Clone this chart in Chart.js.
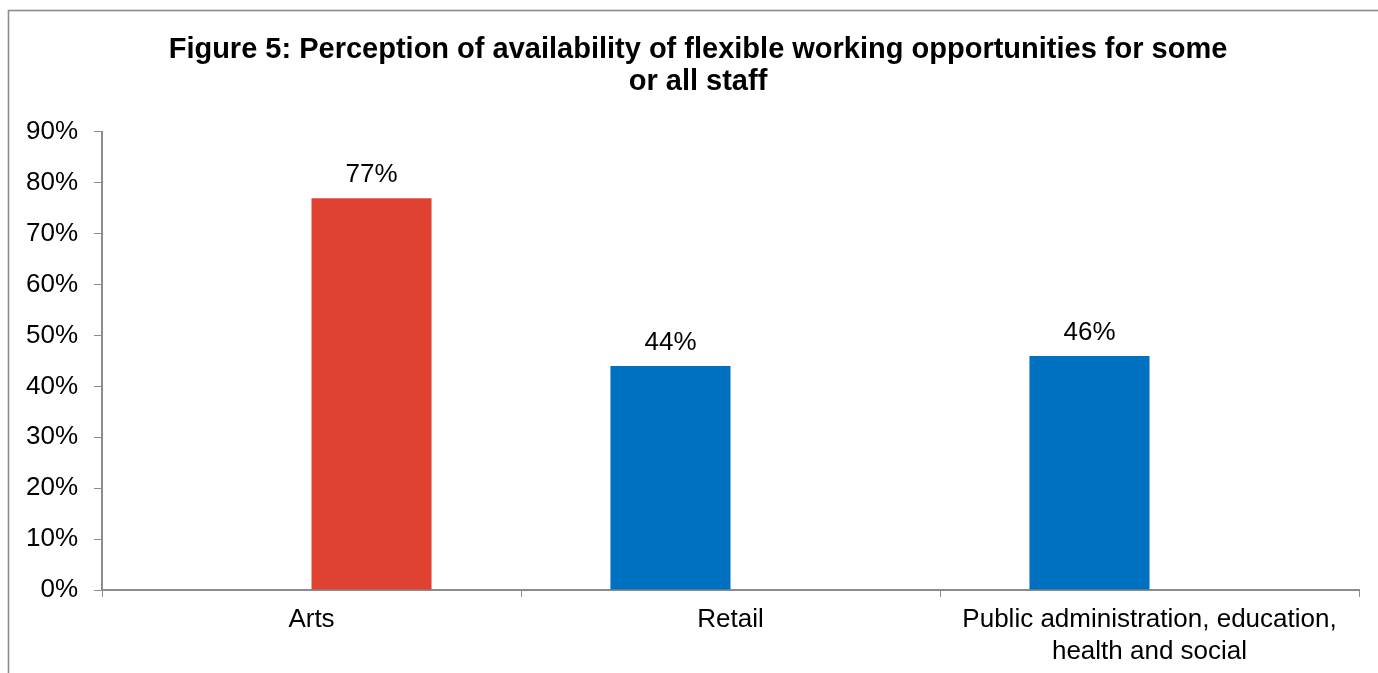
<!DOCTYPE html>
<html>
<head>
<meta charset="utf-8">
<style>
  html, body { margin: 0; padding: 0; background: #ffffff; }
  #wrap { width: 1378px; height: 673px; position: relative; }
</style>
<script src="https://cdn.jsdelivr.net/npm/chart.js@4/dist/chart.umd.min.js"></script>
</head>
<body>
<div id="wrap"><canvas id="chart" width="1378" height="673"></canvas></div>
<script>
// Sectors shown on the category axis (multi-line labels as arrays)
const categories = [
  'Arts',
  'Retail',
  ['Public administration, education,', 'health and social']
];
// Share of respondents reporting flexible working availability (%)
const artsValues  = [77, null, null];
const otherValues = [null, 44, 46];
const yTicks = [0, 10, 20, 30, 40, 50, 60, 70, 80, 90];
const titleLines = [
  'Figure 5: Perception of availability of flexible working opportunities for some',
  'or all staff'
];

const FONT = '"Liberation Sans", Arial, sans-serif';
const AXIS_GREY = '#8c8c8c';

// Outer frame around the figure
const framePlugin = {
  id: 'frame',
  beforeDraw(chart) {
    const ctx = chart.ctx;
    ctx.save();
    ctx.strokeStyle = AXIS_GREY;
    ctx.lineWidth = 1.6;
    ctx.strokeRect(8.5, 10.5, chart.width + 20, chart.height + 20);
    ctx.restore();
  }
};

// Centre the title over the framed figure rather than the plot box
const titleOffset = {
  id: 'titleOffset',
  afterLayout(chart) {
    if (chart.titleBlock) chart.titleBlock.left = 37;
  }
};

// Value labels above each bar
const valueLabels = {
  id: 'valueLabels',
  afterDatasetsDraw(chart) {
    const ctx = chart.ctx;
    ctx.save();
    ctx.font = '26px ' + FONT;
    ctx.fillStyle = '#000000';
    ctx.textAlign = 'center';
    ctx.textBaseline = 'alphabetic';
    chart.data.datasets.forEach((ds, di) => {
      const meta = chart.getDatasetMeta(di);
      meta.data.forEach((bar, i) => {
        const v = ds.data[i];
        if (v === null || v === undefined) return;
        ctx.fillText(v + '%', bar.x, bar.y - 16);
      });
    });
    ctx.restore();
  }
};

new Chart(document.getElementById('chart'), {
  type: 'bar',
  data: {
    labels: categories,
    datasets: [
      {
        label: 'Other sectors',
        data: otherValues,
        backgroundColor: '#0070C0',
        borderWidth: 0,
        barPercentage: 1.0,
        categoryPercentage: 0.573
      },
      {
        label: 'Arts',
        data: artsValues,
        backgroundColor: '#DF4230',
        borderWidth: 0,
        barPercentage: 1.0,
        categoryPercentage: 0.573
      }
    ]
  },
  options: {
    responsive: false,
    animation: false,
    devicePixelRatio: 1,
    layout: { padding: { left: 0, right: 19, top: 0, bottom: 0 } },
    plugins: {
      legend: { display: false },
      tooltip: { enabled: false },
      title: {
        display: true,
        text: titleLines,
        color: '#000000',
        font: { family: FONT, size: 29, weight: 'bold', lineHeight: 1.103 },
        padding: { top: 34, bottom: 34 }
      }
    },
    scales: {
      x: {
        grid: {
          display: true,
          drawOnChartArea: false,
          drawTicks: true,
          tickLength: 7,
          color: AXIS_GREY,
          offset: true
        },
        border: { display: true, color: AXIS_GREY, width: 2 },
        ticks: {
          color: '#000000',
          font: { family: FONT, size: 26, lineHeight: 1.23 },
          padding: 7,
          maxRotation: 0,
          autoSkip: false
        },
        afterFit(scale) { scale.height = 83; }
      },
      y: {
        min: 0,
        max: 90,
        afterBuildTicks(scale) {
          scale.ticks = yTicks.map(v => ({ value: v }));
        },
        grid: {
          display: true,
          drawOnChartArea: false,
          drawTicks: true,
          tickLength: 8,
          color: AXIS_GREY
        },
        border: { display: true, color: AXIS_GREY, width: 2 },
        ticks: {
          color: '#000000',
          font: { family: FONT, size: 26 },
          padding: 16,
          callback: v => v + '%'
        },
        afterFit(scale) { scale.width = 102; }
      }
    }
  },
  plugins: [framePlugin, titleOffset, valueLabels]
});
</script>
</body>
</html>
